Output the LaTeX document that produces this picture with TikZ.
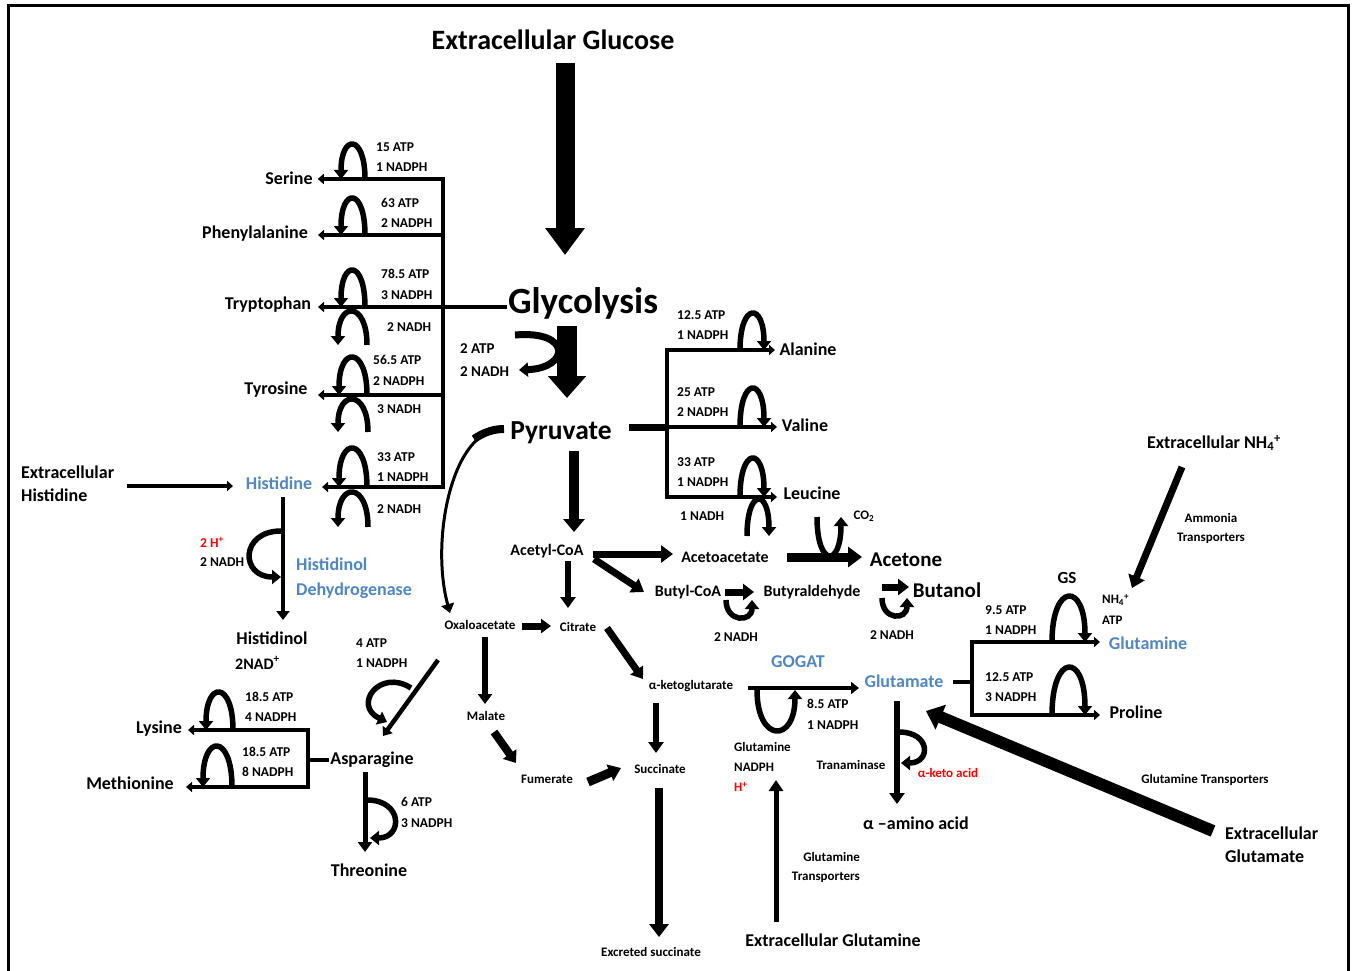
\documentclass[tikz,border=0pt]{standalone}
\usepackage{fontspec}
\setmainfont{Carlito}
\usetikzlibrary{arrows.meta,calc}
\definecolor{myblue}{RGB}{79,134,198}
\newcommand\myarchL[4]{\draw[archs] (#1,#2) .. controls (#1,{#2-1.33*#4}) and ({#1-#3},{#2-1.33*#4}) .. ({#1-#3},#2);}
\newcommand\myarchR[4]{\draw[archs] (#1,#2) .. controls (#1,{#2-1.33*#4}) and ({#1+#3},{#2-1.33*#4}) .. ({#1+#3},#2);}
\newcommand\mycup[4]{\draw[archs] (#1,#2) .. controls (#1,{#2+1.33*#4}) and ({#1+#3},{#2+1.33*#4}) .. ({#1+#3},#2);}
\begin{document}
\begin{tikzpicture}[x=1pt,y=-1pt,
  every node/.style={inner sep=1pt},
  fs/.style={font=\fontsize{#1}{#1}\selectfont\bfseries},
  lab/.style={font=\fontsize{13.5}{15}\selectfont\bfseries,anchor=west},
  sm/.style={font=\fontsize{13}{15}\selectfont\bfseries},
  bl/.style={text=myblue},
  rd/.style={text=red},
  ln/.style={line width=4pt,line join=miter},
  tarr/.style={line width=4pt,line join=miter,-{Triangle[width=10pt,length=6pt]}},
  tarr2/.style={line width=4pt,line join=miter,{Triangle[width=10pt,length=6pt]}-{Triangle[width=10pt,length=6pt]}},
  fat/.style args={#1/#2/#3}{line width=#1pt,-{Triangle[width=#2pt,length=#3pt]}},
  archs/.style={line width=5.5pt,-{Triangle[width=14pt,length=9pt]}},
]
\useasboundingbox (0,0) rectangle (1355,971);
% frame
\draw[line width=3pt] (8,980) -- (8,6) -- (1348,6) -- (1348,980);

% ---------- main texts ----------
\node[fs=28] (glucose) at (553,40) {Extracellular Glucose};
\node[fs=37] (glyco) at (583,303) {Glycolysis};
\node[fs=27.5] (pyr) at (561,433) {Pyruvate};

\node[fs=18] (ser) at (289,178) {Serine};
\node[fs=18] (phe) at (255,234) {Phenylalanine};
\node[fs=18] (trp) at (268,305) {Tryptophan};
\node[fs=18] (tyr) at (276,390) {Tyrosine};
\node[fs=18,bl] (his) at (279,483) {Histidine};
\node[fs=18,align=left,anchor=west] (exthis) at (20,484) {Extracellular\\[5pt]Histidine};
\node[fs=18,bl,align=left,anchor=west] (hdh) at (295,578) {Histidinol\\[7pt]Dehydrogenase};
\node[fs=18] (hol) at (272,638) {Histidinol};
\node[fs=16,anchor=west] (nad) at (234,663) {2NAD\textsuperscript{+}};
\node[fs=18] (asn) at (372,760) {Asparagine};
\node[fs=18] (lys) at (159,729) {Lysine};
\node[fs=18] (met) at (130,783) {Methionine};
\node[fs=18] (thr) at (369,870) {Threonine};

\node[fs=18] (ala) at (808,349) {Alanine};
\node[fs=18] (val) at (805,425) {Valine};
\node[fs=18] (leu) at (812,493) {Leucine};
\node[fs=16] (acoa) at (547,551) {Acetyl-CoA};
\node[fs=16] (acac) at (725,557) {Acetoacetate};
\node[fs=21] (acet) at (906,560) {Acetone};
\node[fs=16] (bcoa) at (688,592) {Butyl-CoA};
\node[fs=16] (bald) at (812,592) {Butyraldehyde};
\node[fs=21] (buoh) at (947,590) {Butanol};
\node[sm] (co2) at (864,516) {CO\textsubscript{2}};

\node[sm] (oaa) at (480,625) {Oxaloacetate};
\node[sm] (cit) at (578,627) {Citrate};
\node[sm] (mal) at (486,716) {Malate};
\node[sm] (fum) at (547,779) {Fumerate};
\node[sm] (suc) at (660,769) {Succinate};
\node[sm] (akg) at (691,686) {α-ketoglutarate};
\node[sm] (exs) at (651,952) {Excreted succinate};

\node[fs=18,bl] (gogat) at (798,662) {GOGAT};
\node[fs=18,bl] (glu) at (904,681) {Glutamate};
\node[fs=18,bl] (gln) at (1148,643) {Glutamine};
\node[fs=18] (pro) at (1136,712) {Proline};
\node[fs=17] (gs) at (1067,578) {GS};
\node[fs=18] (aam) at (916,823) {α –amino acid};
\node[fs=18] (extgln) at (833,940) {Extracellular Glutamine};
\node[fs=18,align=left,anchor=west] (extglu) at (1224,845) {Extracellular\\[5pt]Glutamate};
\node[fs=18] (extnh) at (1214,443) {Extracellular NH\textsubscript{4}\textsuperscript{+}};

\node[sm,align=center] (amt) at (1211,528) {Ammonia\\[4pt]Transporters};
\node[sm,align=right,anchor=east] (glnt) at (861,867) {Glutamine\\[4pt]Transporters};
\node[sm] (glnt2) at (1205,780) {Glutamine Transporters};
\node[sm] (trans) at (851,765) {Tranaminase};
\node[sm,rd] (keto) at (948,773) {α-keto acid};
\node[sm,anchor=west] (q1) at (733,747) {Glutamine};
\node[sm,anchor=west] (q2) at (733,767) {NADPH};
\node[sm,rd,anchor=west] (q3) at (733,787) {H\textsuperscript{+}};

% ---------- small labels ----------
\node[lab] (s1) at (375,147) {15 ATP};
\node[lab] (s2) at (375,167) {1 NADPH};
\node[lab] (p1) at (380,203) {63 ATP};
\node[lab] (p2) at (380,223) {2 NADPH};
\node[lab] (t1) at (380,274) {78.5 ATP};
\node[lab] (t2) at (380,295) {3 NADPH};
\node[lab] (t3) at (386,327) {2 NADH};
\node[lab] (y1) at (372,360) {56.5 ATP};
\node[lab] (y2) at (372,381) {2 NADPH};
\node[lab] (y3) at (376,409) {3 NADH};
\node[lab] (h1) at (376,457) {33 ATP};
\node[lab] (h2) at (376,477) {1 NADPH};
\node[lab] (h3) at (376,509) {2 NADH};
\node[lab,rd] (hd1) at (199,542) {2 H\textsuperscript{+}};
\node[lab] (hd2) at (199,562) {2 NADH};
\node[fs=15,anchor=west] (g1) at (459,349) {2 ATP};
\node[fs=15,anchor=west] (g2) at (459,372) {2 NADH};
\node[lab] (n1) at (355,643) {4 ATP};
\node[lab] (n2) at (355,663) {1 NADPH};
\node[lab] (k1) at (244,697) {18.5 ATP};
\node[lab] (k2) at (244,717) {4 NADPH};
\node[lab] (m1) at (241,752) {18.5 ATP};
\node[lab] (m2) at (241,772) {8 NADPH};
\node[lab] (r1) at (400,802) {6 ATP};
\node[lab] (r2) at (400,823) {3 NADPH};
\node[lab] (a1) at (676,315) {12.5 ATP};
\node[lab] (a2) at (676,335) {1 NADPH};
\node[lab] (v1) at (676,392) {25 ATP};
\node[lab] (v2) at (676,412) {2 NADPH};
\node[lab] (e1) at (676,462) {33 ATP};
\node[lab] (e2) at (676,482) {1 NADPH};
\node[lab] (e3) at (679,516) {1 NADH};
\node[lab,anchor=center] (b1) at (736,637) {2 NADH};
\node[lab,anchor=center] (b2) at (892,635) {2 NADH};
\node[lab] (gg1) at (806,704) {8.5 ATP};
\node[lab] (gg2) at (806,725) {1 NADPH};
\node[lab] (gs1) at (984,610) {9.5 ATP};
\node[lab] (gs2) at (984,630) {1 NADPH};
\node[lab] (pr1) at (984,677) {12.5 ATP};
\node[lab] (pr2) at (984,697) {3 NADPH};
\node[sm,anchor=west] (nh1) at (1101,600) {NH\textsubscript{4}\textsuperscript{+}};
\node[sm,anchor=west] (nh2) at (1101,620) {ATP};

% ---------- connectors ----------
\coordinate (gluc0) at (565,63);
\coordinate (glyc0) at (565,255);
\draw[fat=19/38/27] (gluc0) -- (glyc0);
\draw[fat=20/37/22] (567,326) -- (567,398);
% left tree
\draw[tarr2] (ser.east |- 0,179) ++(4,0) -| (443,487) -- (322,487);
\draw[tarr] (443,235) -- (318,235);
\draw[tarr] (glyco.west |- 0,307) -- (318,307);
\draw[tarr] (443,395) -- (318,395);
\draw[tarr] (127,486) -- (233,486);
\draw[fat=4.5/13/9] (283,497) -- (283,620);
% asparagine
\draw[fat=4.5/12/8] (438,660) -- (383,736);
\draw[ln] (asn.west) -- (308,760);
\draw[tarr2] (188,730) -| (308,787) -- (186,787);
\draw[fat=5/14/10] (365,772) -- (365,852);
% right tree
\draw[line width=7pt] (629,427) -- (667,427);
\draw[tarr2] (775,350) -| (667,497) -- (777,497);
\draw[tarr] (667,427) -- (777,427);
% central
\draw[fat=10/21/13] (574,451) -- (574,532);
\draw[fat=7/17/12] (593,554) -- (673,554);
\draw[fat=7/16/12] (594,559) -- (644,592);
\draw[fat=6/15/11] (568,561) -- (568,608);
\draw[fat=9/20/14] (787,557) -- (862,557);
\draw[fat=7/16/11] (725,592) -- (754,592);
\draw[fat=7/16/11] (882,587) -- (909,587);
\draw[fat=7/14/10] (522,626) -- (551,626);
\draw[fat=6/14/10] (485,637) -- (485,704);
\draw[fat=8/16/11] (494,732) -- (516,763);
\draw[fat=9/17/12] (588,782) -- (621,768);
\draw[fat=7/15/11] (607,628) -- (643,679);
\draw[fat=6/15/11] (656,703) -- (656,753);
\draw[fat=8/19/13] (659,788) -- (659,937);
\draw[fat=4.5/12/8] (748,688) -- (859,688);
\draw[fat=5.5/15/11] (897,701) -- (897,804);
\draw[ln] (953,682) -- (972,682);
\draw[tarr2] (1100,642) -| (972,715) -- (1100,715);
\draw[fat=5/14/11] (776,922) -- (776,780);
\draw[fat=12/26/16] (1213,831) -- (926,711);
\draw[fat=7/17/12] (1182,467) -- (1132,588);
% pyruvate -> oxaloacetate
\draw[line width=3pt,-{Triangle[width=13pt,length=9pt]}] (503,429) .. controls (452,428) and (430,540) .. (450,613);
\draw[line width=8pt] (504,429) .. controls (494,429) and (484,432) .. (474,439);

% ---------- arches ----------
\myarchL{365}{179}{24}{34}
\myarchL{365}{235}{24}{36}
\myarchL{365}{307}{24}{36}
\myarchL{367}{345}{29}{33}
\myarchL{367}{395}{28}{37}
\myarchL{368}{432}{30}{32}
\myarchL{367}{487}{28}{38}
\myarchL{368}{527}{30}{34}
\myarchL{233}{730}{27}{37}
\myarchL{232}{787}{29}{40}
\myarchR{740}{350}{24}{36}
\myarchR{740}{427}{24}{38}
\myarchR{740}{497}{24}{38}
\myarchR{747}{536}{22}{36}
\myarchR{1052}{642}{33}{45}
\myarchR{1052}{715}{33}{47}
\mycup{757}{690}{38}{40}
\mycup{817}{517}{24}{38}
\mycup{726}{600}{26}{17}
\mycup{882}{598}{25}{17}
\draw[archs] (281,531) .. controls (240,531) and (240,577) .. (281,577);
\draw[archs] (367,800) .. controls (403,800) and (403,838) .. (370,838);
\draw[archs] (899,732) .. controls (931,732) and (931,763) .. (901,763);
\draw[archs,line width=7pt] (515,335) .. controls (572,330) and (570,368) .. (519,370);
\draw[archs] (411,688) .. controls (380,668) and (352,705) .. (387,722);
\end{tikzpicture}
\end{document}
